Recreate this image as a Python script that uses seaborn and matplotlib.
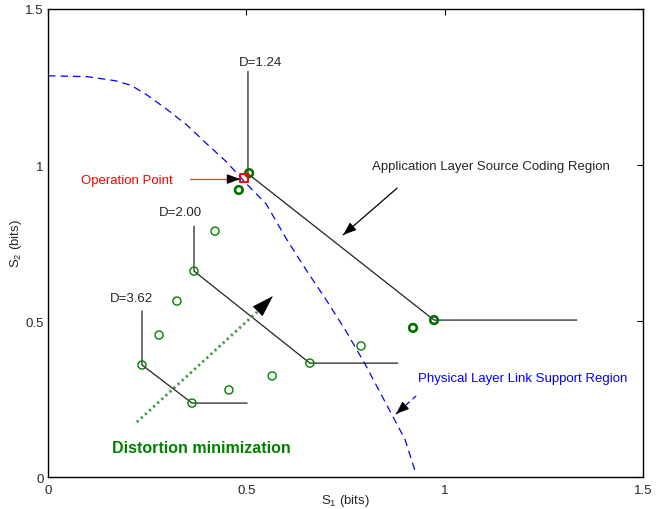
import numpy as np
import pandas as pd
import matplotlib
matplotlib.use("Agg")
import matplotlib.pyplot as plt
import seaborn as sns

# physical layer link support region (blue dashed boundary)
link_s1 = [0, 0.1, 0.17, 0.21, 0.25, 0.3, 0.35, 0.4, 0.45, 0.5, 0.55, 0.6,
           0.65, 0.7, 0.75, 0.8, 0.85, 0.9, 0.925]
link_s2 = [1.286, 1.283, 1.27, 1.255, 1.224, 1.178, 1.128, 1.068, 1.01, 0.94,
           0.875, 0.765, 0.665, 0.57, 0.47, 0.36, 0.24, 0.12, 0.02]

# source coding frontiers for three distortion levels
d124_s1 = [0.504, 0.504, 0.973, 1.333]
d124_s2 = [1.30, 0.972, 0.503, 0.503]
d200_s1 = [0.368, 0.368, 0.660, 0.882]
d200_s2 = [0.804, 0.660, 0.365, 0.365]
d362_s1 = [0.237, 0.237, 0.363, 0.502]
d362_s2 = [0.532, 0.359, 0.237, 0.237]

# operating points
thin_s1 = [0.368, 0.660, 0.237, 0.363, 0.421, 0.325, 0.280, 0.456, 0.565, 0.789]
thin_s2 = [0.660, 0.365, 0.359, 0.237, 0.788, 0.564, 0.455, 0.279, 0.324, 0.420]
thick_s1 = [0.507, 0.481, 0.920, 0.973]
thick_s2 = [0.974, 0.920, 0.478, 0.503]
op_s1 = [0.494]
op_s2 = [0.958]

# distortion minimization direction
dist_s1 = [0.224, 0.527]
dist_s2 = [0.176, 0.529]

sns.set_style("white")
plt.rcParams['font.family'] = ['Liberation Sans', 'DejaVu Sans']
plt.rcParams['mathtext.fontset'] = 'custom'
plt.rcParams['mathtext.rm'] = 'Liberation Sans'
plt.rcParams['mathtext.it'] = 'Liberation Sans'

fig = plt.figure(figsize=(6.63, 5.10), dpi=100)
ax = fig.add_axes([0.0724, 0.0627, 0.8976, 0.9177])

sns.lineplot(x=link_s1, y=link_s2, sort=False, estimator=None, color='blue',
             lw=0.9, linestyle=(0, (6, 4)), ax=ax)

for s1, s2 in [(d124_s1, d124_s2), (d200_s1, d200_s2), (d362_s1, d362_s2)]:
    sns.lineplot(x=s1, y=s2, sort=False, estimator=None, color='#222222',
                 lw=0.9, ax=ax)

sns.lineplot(x=dist_s1, y=dist_s2, sort=False, estimator=None, color='#3a9a3a',
             lw=2.0, linestyle=(0, (0.8, 1.2)), ax=ax)

sns.scatterplot(x=thin_s1, y=thin_s2, marker='o', s=34, facecolor='none',
                edgecolor='#008000', linewidth=1.0, ax=ax, zorder=4)
sns.scatterplot(x=thick_s1, y=thick_s2, marker='o', s=30, facecolor='none',
                edgecolor='#007000', linewidth=1.9, ax=ax, zorder=4)
sns.scatterplot(x=op_s1, y=op_s2, marker='s', s=36, facecolor='none',
                edgecolor='red', linewidth=1.4, ax=ax, zorder=5)

# big arrowhead at the end of the dotted line
ax.annotate('', xy=(0.567, 0.58), xytext=(0.537, 0.542),
            arrowprops=dict(arrowstyle='-|>,head_length=1.45,head_width=0.46',
                            color='black', lw=0.5, shrinkA=0, shrinkB=0,
                            mutation_scale=10))

# annotation arrows (line colour differs from the black head)
def arrow(x0, y0, x1, y1, color, ls='-'):
    ax.plot([x0, x1], [y0, y1], color=color, lw=0.9, linestyle=ls)
    ax.annotate('', xy=(x1, y1),
                xytext=(x1 - (x1 - x0) * 0.05, y1 - (y1 - y0) * 0.05),
                arrowprops=dict(arrowstyle='-|>,head_length=0.8,head_width=0.3',
                                color='black', lw=0.8, shrinkA=0, shrinkB=0,
                                mutation_scale=10))

arrow(0.880, 0.926, 0.744, 0.776, 'black')
arrow(0.358, 0.955, 0.484, 0.955, '#ff3333')
arrow(0.928, 0.260, 0.877, 0.202, 'blue', ls=(0, (4, 3)))

fs = 9.5
ax.text(0.481, 1.330, 'D=1.24', fontsize=fs, ha='left', va='center')
ax.text(0.280, 0.849, 'D=2.00', fontsize=fs, ha='left', va='center')
ax.text(0.156, 0.574, 'D=3.62', fontsize=fs, ha='left', va='center')
ax.text(0.315, 0.952, 'Operation Point', fontsize=fs, color='red',
        ha='right', va='center')
ax.text(0.817, 0.997, 'Application Layer Source Coding Region', fontsize=fs,
        ha='left', va='center')
ax.text(0.933, 0.317, 'Physical Layer Link Support Region', fontsize=fs,
        color='blue', ha='left', va='center')
ax.text(0.161, 0.096, 'Distortion minimization', fontsize=11.5,
        fontweight='bold', color='#008000', ha='left', va='center')

ax.set_xlim(0, 1.5)
ax.set_ylim(0, 1.5)
ax.set_xticks([0, 0.5, 1, 1.5])
ax.set_xticklabels(['0', '0.5', '1', '1.5'])
ax.set_yticks([0, 0.5, 1, 1.5])
ax.set_yticklabels(['0', '0.5', '1', '1.5'])
ax.tick_params(direction='in', top=True, right=True, length=4, width=0.8,
               labelsize=9.5, pad=3, color='black')
ax.tick_params(axis='x', pad=5)
for sp in ax.spines.values():
    sp.set_color('black')
    sp.set_linewidth(1.0)
ax.set_xlabel(r'S$_1$ (bits)', fontsize=9.5, labelpad=-3)
ax.set_ylabel(r'S$_2$ (bits)', fontsize=9.5, labelpad=1)

fig.savefig('out.png', dpi=100)
